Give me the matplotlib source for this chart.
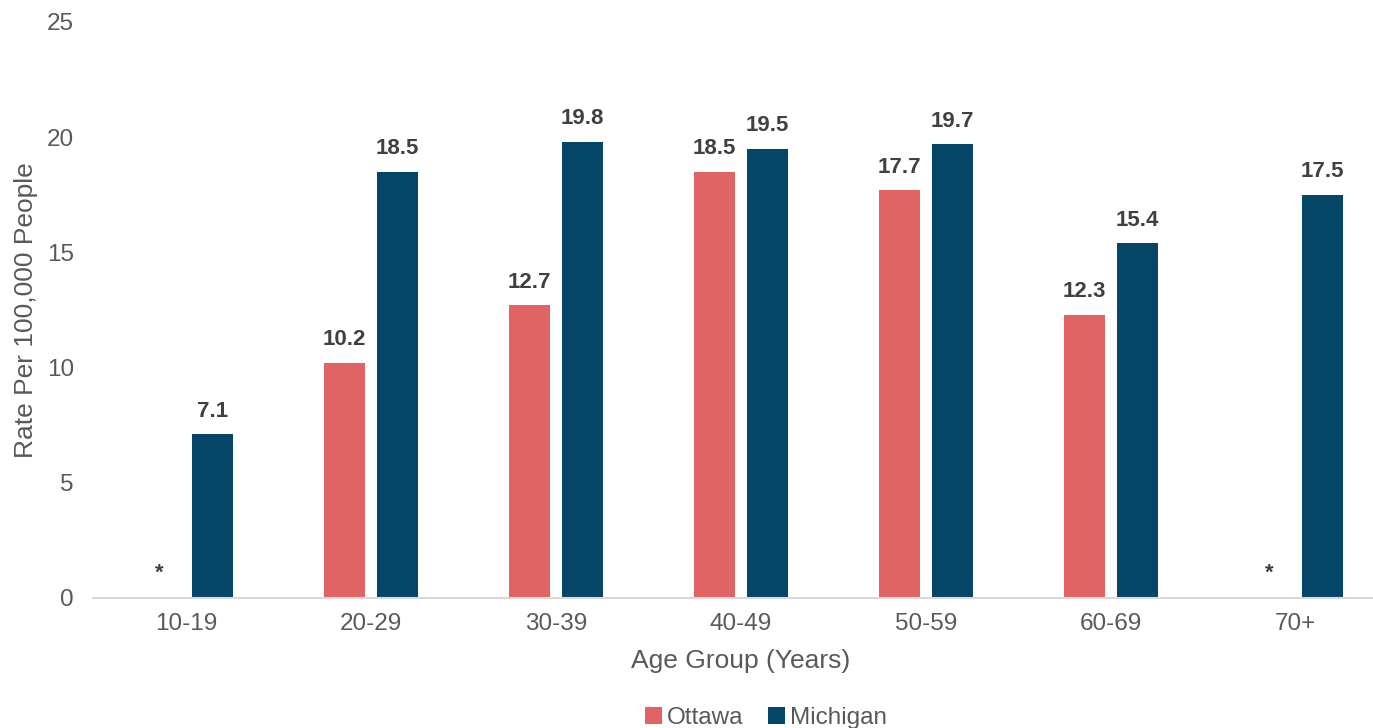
import matplotlib.pyplot as plt
import numpy as np

plt.rcParams['font.family'] = ['Liberation Sans', 'DejaVu Sans']

age_groups = ['10-19', '20-29', '30-39', '40-49', '50-59', '60-69', '70+']
ottawa = [None, 10.2, 12.7, 18.5, 17.7, 12.3, None]
michigan = [7.1, 18.5, 19.8, 19.5, 19.7, 15.4, 17.5]

ottawa_color = '#E06464'
michigan_color = '#054568'
text_color = '#595959'
label_color = '#404040'

fig = plt.figure(figsize=(13.73, 7.28), dpi=100)
# plot area runs a little past the right edge of the figure
ax = fig.add_axes([0.068, 0.1786, 0.943, 0.7912])

x = np.arange(len(age_groups))
width = 0.222
offset = 0.143

ott_vals = [v if v is not None else 0 for v in ottawa]
rects1 = ax.bar(x - offset, ott_vals, width, color=ottawa_color, label='Ottawa')
rects2 = ax.bar(x + offset, michigan, width, color=michigan_color, label='Michigan')

# value labels; suppressed values get an asterisk
for rect, v in zip(rects1, ottawa):
    cx = rect.get_x() + rect.get_width() / 2
    if v is None:
        ax.annotate('*', xy=(cx, 0), xytext=(0, 10), textcoords='offset points',
                    ha='center', va='bottom', fontsize=16, fontweight='bold', color=label_color)
    else:
        ax.annotate('{}'.format(v), xy=(cx, v), xytext=(0, 9), textcoords='offset points',
                    ha='center', va='bottom', fontsize=16, fontweight='bold', color=label_color)
for rect, v in zip(rects2, michigan):
    cx = rect.get_x() + rect.get_width() / 2
    ax.annotate('{}'.format(v), xy=(cx, v), xytext=(0, 9), textcoords='offset points',
                ha='center', va='bottom', fontsize=16, fontweight='bold', color=label_color)

ax.set_xlim(-0.5, len(age_groups) - 0.5)
ax.set_ylim(0, 25)
ax.set_yticks([0, 5, 10, 15, 20, 25])
ax.set_xticks(x)
ax.set_xticklabels(age_groups)
ax.tick_params(axis='both', length=0, labelsize=17.5, colors=text_color)
ax.tick_params(axis='x', pad=11)
ax.tick_params(axis='y', pad=14)

for s in ['top', 'right', 'left']:
    ax.spines[s].set_visible(False)
ax.spines['bottom'].set_color('#D9D9D9')
ax.spines['bottom'].set_linewidth(1.5)

ax.set_xlabel('Age Group (Years)', fontsize=19, color=text_color, labelpad=10)
ax.set_ylabel('Rate Per 100,000 People', fontsize=19, color=text_color, labelpad=6)

leg = fig.legend(loc='lower center', bbox_to_anchor=(0.558, -0.032), ncol=2, frameon=False,
                 fontsize=17.5, handlelength=0.7, handleheight=0.7, handletextpad=0.2,
                 columnspacing=1.0)
for t in leg.get_texts():
    t.set_color(text_color)

plt.savefig('out.png', dpi=100)
